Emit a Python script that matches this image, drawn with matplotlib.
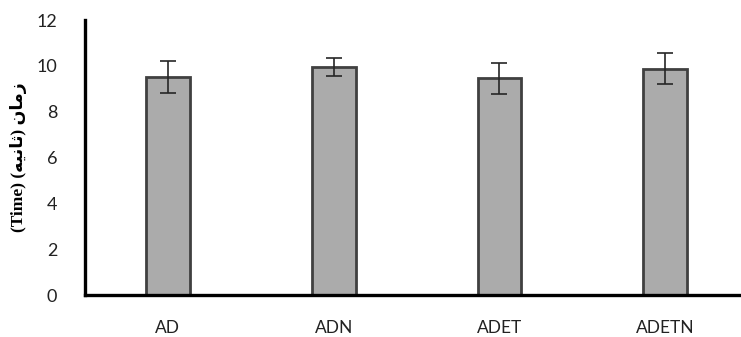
import numpy as np
import matplotlib
matplotlib.use("Agg")
import matplotlib.pyplot as plt

# data
categories = ["AD", "ADN", "ADET", "ADETN"]
times = [9.51, 9.96, 9.45, 9.88]
errors = [0.70, 0.39, 0.68, 0.68]

# Persian part of the axis label, pre-shaped (presentation forms, visual order)
seconds_fa = "\uFEEA\uFEF4\uFEE7\uFE8E\uFE9B"
time_fa = "\uFEE5\uFE8E\uFEE3\uFEAF"
ylabel = "(Time) (" + seconds_fa + ") " + time_fa

fig = plt.figure(figsize=(7.41, 3.37), dpi=100)
ax = fig.add_axes([0.1147, 0.1246, 0.895, 0.816])

x = np.arange(len(categories))
ax.bar(x, times, width=0.265, color="#ABABAB", edgecolor="#404040",
       linewidth=2.0, zorder=2)
ax.errorbar(x, times, yerr=errors, fmt="none", ecolor="#262626",
            elinewidth=1.2, capsize=6, capthick=1.2, zorder=3)

ax.set_xlim(-0.5, 3.5)
ax.set_ylim(0, 12)
ax.set_yticks(range(0, 13, 2))
ax.set_xticks(x)
ax.set_xticklabels(categories)

for side in ["top", "right"]:
    ax.spines[side].set_visible(False)
for side in ["left", "bottom"]:
    ax.spines[side].set_linewidth(2.4)
    ax.spines[side].set_color("black")

ax.tick_params(axis="y", length=0, pad=20, labelsize=13)
ax.tick_params(axis="x", length=0, pad=18, labelsize=12.5)
for lab in ax.get_xticklabels() + ax.get_yticklabels():
    lab.set_family("Lato")
    lab.set_color("#222222")

ax.set_ylabel(ylabel, family=["Liberation Serif", "DejaVu Sans"],
              fontweight="bold", fontsize=12.5, labelpad=7)

fig.savefig("out.png", dpi=100)
